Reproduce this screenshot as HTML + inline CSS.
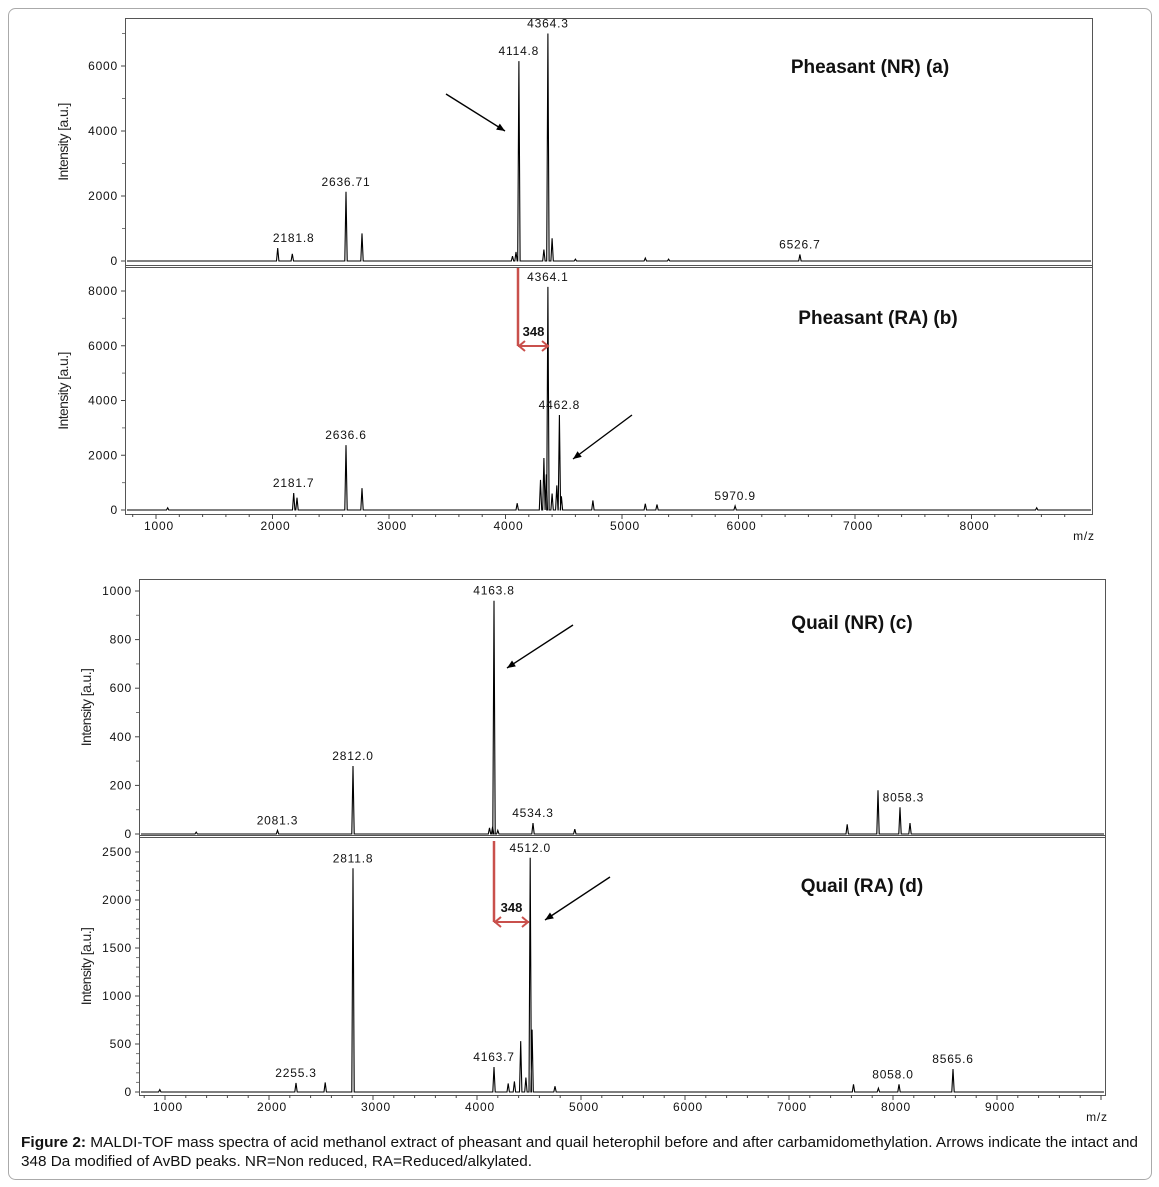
<!DOCTYPE html>
<html><head><meta charset="utf-8">
<style>
html,body{margin:0;padding:0;background:#fff;}
svg{display:block;font-family:"Liberation Sans",Arial,sans-serif;}
.tk{font-size:12px;letter-spacing:0.8px;fill:#111;}
.pl{font-size:12px;letter-spacing:0.8px;fill:#111;text-anchor:middle;}
.yl{font-size:14px;fill:#222;letter-spacing:-0.6px;}
.ti{font-size:19px;font-weight:bold;fill:#111;}
</style></head>
<body>
<svg id="fig" width="1159" height="1187" viewBox="0 0 1159 1187">
<rect x="8.5" y="8.5" width="1143" height="1171" rx="7" fill="#fff" stroke="#aaa"/>
<g id="plots"></g>
<text x="21" y="1147" font-size="14.5" fill="#111" textLength="1117" lengthAdjust="spacingAndGlyphs"><tspan font-weight="bold">Figure 2:</tspan> MALDI-TOF mass spectra of acid methanol extract of pheasant and quail heterophil before and after carbamidomethylation.  Arrows indicate the intact and</text>
<text x="21" y="1166" font-size="14.5" fill="#111" textLength="511" lengthAdjust="spacingAndGlyphs">348 Da modified of AvBD peaks. NR=Non reduced, RA=Reduced/alkylated.</text>
</svg>
<script>
// Peak data: m/z and intensity per spectrum
const mzA = [2045, 2170, 2631, 2768, 4060, 4090, 4114.8, 4330, 4364.3, 4400, 4600, 5200, 5400, 6526.7];
const intA = [400, 220, 2130, 850, 150, 280, 6150, 350, 7000, 700, 60, 90, 60, 200];
const mzB = [1100, 2181.7, 2210, 2631, 2768, 4100, 4300, 4330, 4350, 4364.1, 4400, 4440, 4462.8, 4480, 4750, 5200, 5300, 5970.9, 8560];
const intB = [80, 620, 450, 2370, 800, 250, 1100, 1900, 1300, 8150, 600, 900, 3470, 500, 350, 230, 200, 150, 80];
const mzC = [1300, 2081.3, 2808, 4120, 4150, 4163.8, 4200, 4538, 4940, 7560, 7856, 8067, 8163];
const intC = [8, 15, 280, 25, 30, 960, 15, 45, 20, 40, 180, 110, 45];
const mzD = [950, 2260, 2540, 2808, 4163.7, 4300, 4360, 4420, 4470, 4512.0, 4530, 4750, 7620, 7860, 8058.0, 8577];
const intD = [25, 95, 100, 2330, 260, 90, 110, 530, 150, 2440, 650, 60, 80, 40, 80, 240];
const xTicksTop = [1000, 2000, 3000, 4000, 5000, 6000, 7000, 8000];
const xTicksBot = [1000, 2000, 3000, 4000, 5000, 6000, 7000, 8000, 9000];
const yTicksA = [0, 2000, 4000, 6000];
const yTicksB = [0, 2000, 4000, 6000, 8000];
const yTicksC = [0, 200, 400, 600, 800, 1000];
const yTicksD = [0, 500, 1000, 1500, 2000, 2500];
const labelsA = [[2181.8, 400, '2181.8'], [2631, 2130, '2636.71'], [4114.8, 6150, '4114.8'], [4364.3, 7000, '4364.3'], [6526.7, 200, '6526.7']];
const labelsB = [[2181.7, 620, '2181.7'], [2631, 2370, '2636.6'], [4364.1, 8150, '4364.1'], [4462.8, 3470, '4462.8'], [5970.9, 150, '5970.9']];
const labelsC = [[2081.3, 15, '2081.3'], [2808, 280, '2812.0'], [4163.8, 960, '4163.8'], [4538, 45, '4534.3'], [8100, 110, '8058.3']];
const labelsD = [[2260, 95, '2255.3'], [2808, 2330, '2811.8'], [4163.7, 260, '4163.7'], [4512.0, 2440, '4512.0'], [8000, 80, '8058.0'], [8577, 240, '8565.6']];

const NS = 'http://www.w3.org/2000/svg';
const root = document.getElementById('plots');
function mk(tag, attrs, parent) {
  const e = document.createElementNS(NS, tag);
  for (const k in attrs) e.setAttribute(k, attrs[k]);
  (parent || root).appendChild(e);
  return e;
}
function panel(p) {
  const g = mk('g', {});
  
  
  const X = m => p.x0 + (m - 1000) * p.kx;
  const Y = v => p.y0 - v * p.ky;
  p.yt.forEach((v, i) => {
    const t = mk('text', {x: p.left - 7, y: Y(v) + 4, 'text-anchor': 'end', class: 'tk'}, g);
    t.textContent = v;
    
    
    mk('line', {x1: p.left - 4, x2: p.left, y1: Y(v), y2: Y(v), stroke: '#444'}, g);
    if (i < p.yt.length - 1) {
      const step = (p.yt[1] - p.yt[0]) / p.minor;
      for (let j = 1; j < p.minor; j++) mk('line', {x1: p.left - 3, x2: p.left, y1: Y(v + j * step), y2: Y(v + j * step), stroke: '#777'}, g);
    }
  });
  if (p.topMinor) mk('line', {x1: p.left - 3, x2: p.left, y1: Y(p.topMinor), y2: Y(p.topMinor), stroke: '#777'}, g);
  const yl = mk('text', {x: 0, y: 0, transform: `translate(${p.ylx},${(p.top + p.bottom) / 2}) rotate(-90)`, 'text-anchor': 'middle', class: 'yl'}, g);
  yl.textContent = 'Intensity [a.u.]';
  
  
  const idx = p.mz.map((m, i) => i).sort((a, b) => p.mz[a] - p.mz[b]);
  let d = `M${p.left + 2},${p.y0}`;
  idx.forEach(i => {
    const x = X(p.mz[i]);
    d += ` L${(x - 1.2).toFixed(1)},${p.y0} L${x.toFixed(1)},${Y(p.int[i]).toFixed(1)} L${(x + 1.2).toFixed(1)},${p.y0}`;
  });
  d += ` L${p.right - 1},${p.y0}`;
  const path = mk('path', {d: d, fill: 'none', stroke: '#000', 'stroke-width': 1.1}, g);
  
  
  p.labels.forEach(l => {
    const t = mk('text', {x: X(l[0]), y: Y(l[1]) - 6, class: 'pl'}, g);
    t.textContent = l[2];
    
    
  });
  const ti = mk('text', {x: p.tx, y: p.ty, 'text-anchor': 'middle', class: 'ti'}, g);
  ti.textContent = p.title;
  
  
  return {X, Y};
}
function xaxis(p, ticks, ay, name) {
  const g = mk('g', {});
  
  
  const X = m => p.x0 + (m - 1000) * p.kx;
  for (let m = 800; m <= p.maxM; m += 200) {
    const x = X(m);
    if (x < p.left + 1 || x > p.right - 1) continue;
    mk('line', {x1: x, x2: x, y1: ay, y2: ay + (m % 1000 === 0 ? 5 : 3), stroke: '#444'}, g);
  }
  ticks.forEach(m => {
    const t = mk('text', {x: X(m) + 3, y: ay + 16, 'text-anchor': 'middle', class: 'tk'}, g);
    t.textContent = m;
    
    
  });
  const mz = mk('text', {x: p.right - 8, y: ay + 26, 'text-anchor': 'middle', class: 'tk'}, g);
  mz.textContent = 'm/z';
  
  
}
function arrow(x1, y1, x2, y2, name) {
  const g = mk('g', {});
  
  
  mk('line', {x1, y1, x2, y2, stroke: '#000', 'stroke-width': 1.4}, g);
  const a = Math.atan2(y2 - y1, x2 - x1), L = 9, w = 0.4;
  mk('polygon', {points: `${x2},${y2} ${x2 - L * Math.cos(a - w)},${y2 - L * Math.sin(a - w)} ${x2 - L * Math.cos(a + w)},${y2 - L * Math.sin(a + w)}`, fill: '#000'}, g);
}
function redArrow(x, yTop, yBot, x2, name) {
  const g = mk('g', {});
  
  
  const c = '#c9504c';
  mk('line', {x1: x, y1: yTop, x2: x, y2: yBot, stroke: c, 'stroke-width': 2.5}, g);
  mk('line', {x1: x, y1: yBot, x2: x2, y2: yBot, stroke: c, 'stroke-width': 2}, g);
  mk('polyline', {points: `${x + 7},${yBot - 5} ${x + 1},${yBot} ${x + 7},${yBot + 5}`, fill: 'none', stroke: c, 'stroke-width': 2}, g);
  mk('polyline', {points: `${x2 - 7},${yBot - 5} ${x2 - 1},${yBot} ${x2 - 7},${yBot + 5}`, fill: 'none', stroke: c, 'stroke-width': 2}, g);
  const t = mk('text', {x: (x + x2) / 2, y: yBot - 10, 'text-anchor': 'middle', 'font-size': 13, 'font-weight': 'bold', fill: '#111'}, g);
  t.textContent = '348';
  
  
}
const b1 = mk('rect', {x: 125.5, y: 18.5, width: 967, height: 496, fill: 'none', stroke: '#555'});


mk('line', {x1: 125, x2: 1092, y1: 265.5, y2: 265.5, stroke: '#555', 'stroke-width': 1});
mk('line', {x1: 125, x2: 1092, y1: 267.5, y2: 267.5, stroke: '#555', 'stroke-width': 1});
const b2 = mk('rect', {x: 139.5, y: 579.5, width: 966, height: 516, fill: 'none', stroke: '#555'});


mk('line', {x1: 139, x2: 1105, y1: 835.5, y2: 835.5, stroke: '#555'});
mk('line', {x1: 139, x2: 1105, y1: 837.5, y2: 837.5, stroke: '#555'});

const pTop = {x0: 156, kx: 0.1165, left: 125, right: 1092, maxM: 8800};
panel({name: 'panel-a-pheasant-nr', x0: 156, kx: 0.1165, y0: 261, ky: 65 / 2000, left: 125, right: 1092, top: 18, bottom: 266, yt: yTicksA, minor: 2, topMinor: 7000, ylx: 68, mz: mzA, int: intA, labels: labelsA, title: 'Pheasant (NR) (a)', tx: 870, ty: 73});
panel({name: 'panel-b-pheasant-ra', x0: 156, kx: 0.1165, y0: 510, ky: 54.75 / 2000, left: 125, right: 1092, top: 268, bottom: 514, yt: yTicksB, minor: 2, ylx: 68, mz: mzB, int: intB, labels: labelsB, title: 'Pheasant (RA) (b)', tx: 878, ty: 324});
xaxis(pTop, xTicksTop, 514, 'x-axis-pheasant');
const pBot = {x0: 165, kx: 0.104, left: 139, right: 1105, maxM: 10000};
panel({name: 'panel-c-quail-nr', x0: 165, kx: 0.104, y0: 834, ky: 48.6 / 200, left: 139, right: 1105, top: 579, bottom: 836, yt: yTicksC, minor: 2, ylx: 91, mz: mzC, int: intC, labels: labelsC, title: 'Quail (NR) (c)', tx: 852, ty: 629});
panel({name: 'panel-d-quail-ra', x0: 165, kx: 0.104, y0: 1092, ky: 48 / 500, left: 139, right: 1105, top: 838, bottom: 1095, yt: yTicksD, minor: 5, ylx: 91, mz: mzD, int: intD, labels: labelsD, title: 'Quail (RA) (d)', tx: 862, ty: 892});
xaxis(pBot, xTicksBot, 1095, 'x-axis-quail');

arrow(446, 94, 505, 131, 'arrow-a');
arrow(632, 415, 573, 459, 'arrow-b');
arrow(573, 625, 507, 668, 'arrow-c');
arrow(610, 877, 545, 920, 'arrow-d');
redArrow(518, 268, 346, 549, 'shift-arrow-b');
redArrow(494, 841, 922, 529, 'shift-arrow-d');
</script>
</body></html>
